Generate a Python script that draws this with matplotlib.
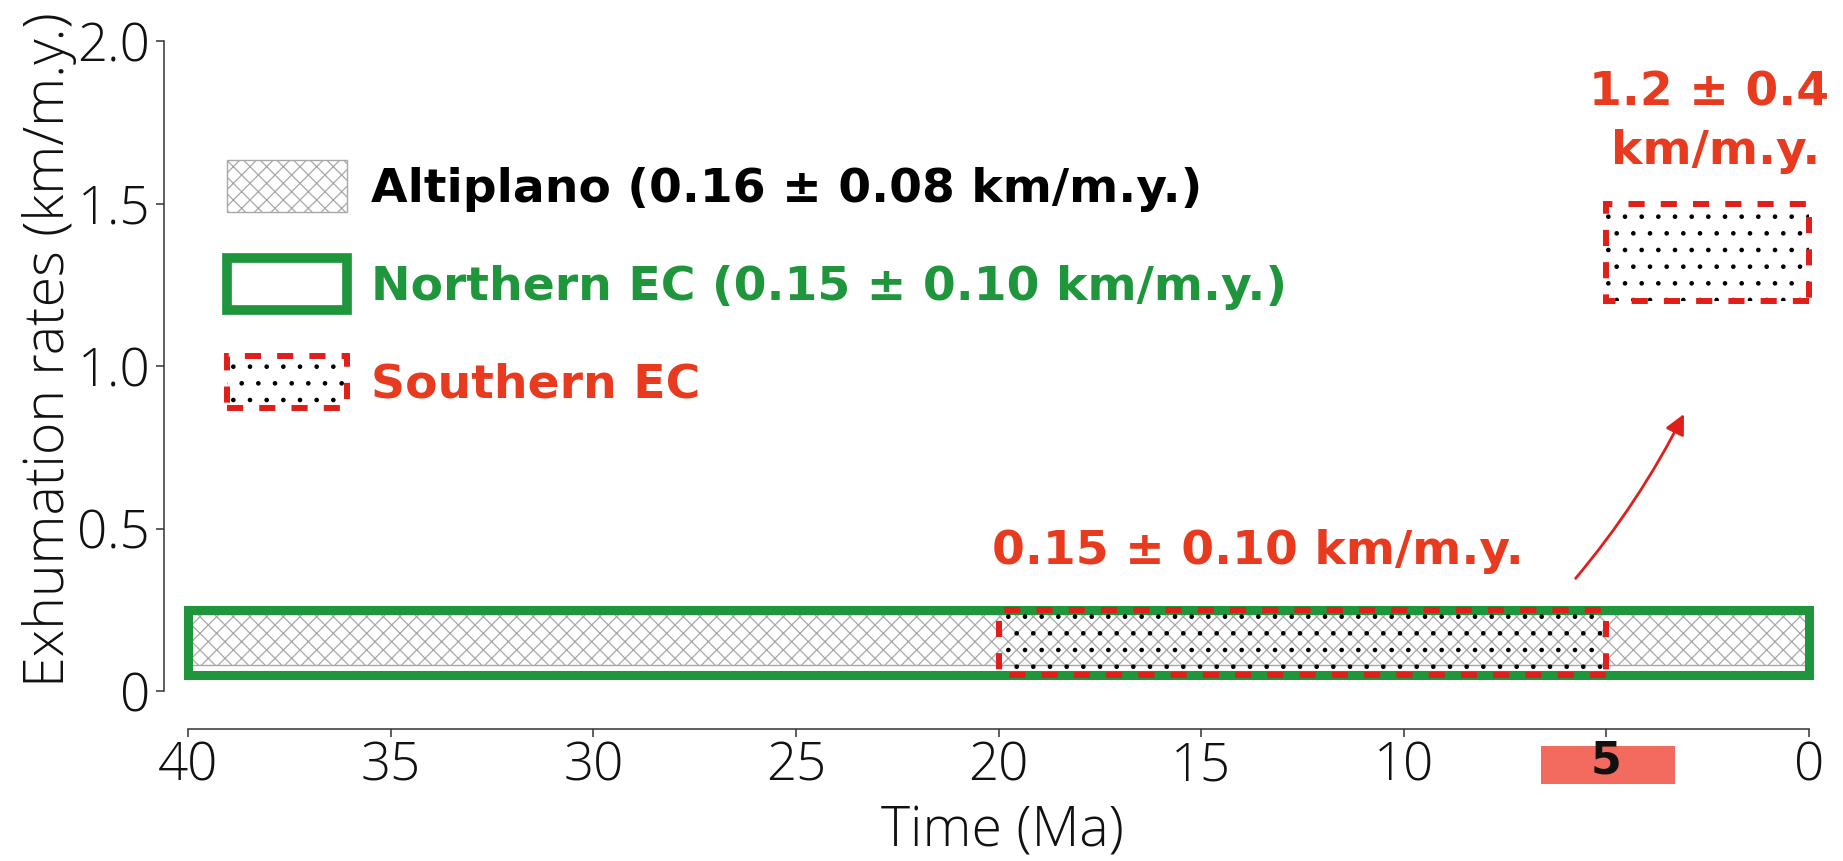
import matplotlib
matplotlib.use('Agg')
import matplotlib.pyplot as plt
import matplotlib.transforms as mtransforms
from matplotlib.patches import Rectangle, Patch
from matplotlib.legend_handler import HandlerTuple

# exhumation rates (km/m.y.) and the time windows (Ma) they cover
alti_time = (40, 0)
alti_rate, alti_err = 0.16, 0.08
north_time = (40, 0)
north_rate, north_err = 0.15, 0.10
south_old_time = (20, 5)
south_old_rate, south_old_err = 0.15, 0.10
south_young_time = (5, 0)
south_young_rate, south_young_err = 1.2, 0.4
# drawn extent of the young southern box (schematic, not to scale)
south_young_box = (1.2, 1.5)

x_ticks = [40, 35, 30, 25, 20, 15, 10, 5, 0]
y_ticks = [0, 0.5, 1.0, 1.5, 2.0]
y_ticklabels = ['0', '0.5', '1.0', '1.5', '2.0']

green = '#1f963c'
red = '#e01f1a'
red_text = '#e83a1e'
gray = '#a8a8a8'
dash = (0, (2.7, 2.7))

plt.rcParams['hatch.linewidth'] = 0.9

fig = plt.figure(figsize=(18.43, 8.61), dpi=100)
ax = fig.add_axes([0.089, 0.1974, 0.910, 0.7927])
ax.set_xlim(40.6, -0.8)
ax.set_ylim(0, 2.1)

light = dict(family='Open Sans', fontweight='light')
bold = dict(family='DejaVu Sans', fontweight='bold')
big = 34


def box(t, lo, hi, **kw):
    r = Rectangle((min(t), lo), abs(t[0] - t[1]), hi - lo, **kw)
    ax.add_patch(r)
    return r


# Altiplano texture
box(alti_time, alti_rate - alti_err, alti_rate + alti_err,
    facecolor='white', edgecolor=gray, lw=1, hatch='//\\\\', zorder=1)
# Northern EC outline
box(north_time, north_rate - north_err, north_rate + north_err,
    facecolor='none', edgecolor=green, lw=6.5, zorder=2)
# Southern EC, 20-5 Ma
box(south_old_time, south_old_rate - south_old_err, south_old_rate + south_old_err,
    facecolor='none', edgecolor='black', lw=0, hatch='.', zorder=3)
box(south_old_time, south_old_rate - south_old_err, south_old_rate + south_old_err,
    facecolor='none', edgecolor=red, lw=4.3, linestyle=dash, zorder=4)
# Southern EC, 5-0 Ma
box(south_young_time, south_young_box[0], south_young_box[1],
    facecolor='white', edgecolor='black', lw=0, hatch='.', zorder=3)
box(south_young_time, south_young_box[0], south_young_box[1],
    facecolor='none', edgecolor=red, lw=4.3, linestyle=dash, zorder=4)

ax.text(13.6, 0.43, '{:.2f} ± {:.2f} km/m.y.'.format(south_old_rate, south_old_err),
        color=red_text, fontsize=big, ha='center', va='center', **bold)
ax.text(2.45, 1.84, '{} ± {}'.format(south_young_rate, south_young_err),
        color=red_text, fontsize=big, ha='center', va='center', **bold)
ax.text(2.3, 1.66, 'km/m.y.', color=red_text, fontsize=big,
        ha='center', va='center', **bold)

ax.annotate('', xy=(3.05, 0.86), xytext=(5.8, 0.34),
            arrowprops=dict(arrowstyle='-|>', color=red, lw=2,
                            mutation_scale=30,
                            connectionstyle='arc3,rad=0.06'))

# legend
h_alti = Patch(facecolor='white', edgecolor=gray, lw=1, hatch='//\\\\')
h_north = Patch(facecolor='none', edgecolor=green, lw=7)
h_south = (Patch(facecolor='white', edgecolor='black', lw=0, hatch='.'),
           Patch(facecolor='none', edgecolor=red, lw=4.3, linestyle=dash))
leg = ax.legend([h_alti, h_north, h_south],
                ['Altiplano ({:.2f} ± {:.2f} km/m.y.)'.format(alti_rate, alti_err),
                 'Northern EC ({:.2f} ± {:.2f} km/m.y.)'.format(north_rate, north_err),
                 'Southern EC'],
                handler_map={tuple: HandlerTuple(ndivide=1)},
                loc='upper left', bbox_to_anchor=(227 / 1843, 1 - 160 / 861),
                bbox_transform=fig.transFigure, frameon=False,
                borderpad=0, borderaxespad=0,
                handlelength=2.55, handleheight=1.32, handletextpad=0.5,
                labelspacing=0.97,
                labelcolor=['black', green, red_text],
                prop={'family': 'DejaVu Sans', 'weight': 'bold', 'size': big})

# axes styling
for s in ['top', 'right']:
    ax.spines[s].set_visible(False)
ax.spines['left'].set_bounds(0, 2)
ax.spines['bottom'].set_bounds(0, 40)
ax.spines['bottom'].set_position(('outward', 27))
for s in ['left', 'bottom']:
    ax.spines[s].set_color('#333333')
    ax.spines[s].set_linewidth(1.1)

ax.set_xticks(x_ticks)
ax.set_xticklabels([str(v) for v in x_ticks])
ax.set_yticks(y_ticks)
ax.set_yticklabels(y_ticklabels)
ax.tick_params(direction='out', length=6, width=1.1, color='#333333',
               labelsize=38, labelcolor='#111111')
ax.tick_params(axis='x', pad=2)
ax.tick_params(axis='y', pad=4)
for lab in ax.get_xticklabels() + ax.get_yticklabels():
    lab.set_family('Open Sans')
    lab.set_fontweight('light')

# highlight the 5 Ma tick label
five = ax.get_xticklabels()[x_ticks.index(5)]
five.set_family('DejaVu Sans')
five.set_fontweight('bold')
five.set_fontsize(32)
trans = mtransforms.blended_transform_factory(ax.transData, fig.transFigure)
fig.patches.append(Rectangle((3.3, 1 - 784 / 861), 3.3, 38 / 861,
                             transform=trans, facecolor='#f36b5f',
                             edgecolor='none', zorder=-1))

ax.set_xlabel('Time (Ma)', fontsize=40, labelpad=8, color='#111111', **light)
ax.set_ylabel('Exhumation rates (km/m.y.)', fontsize=40, color='#111111', **light)
ax.yaxis.set_label_coords(-0.052, 0.5)

fig.savefig('out.png', dpi=100)
